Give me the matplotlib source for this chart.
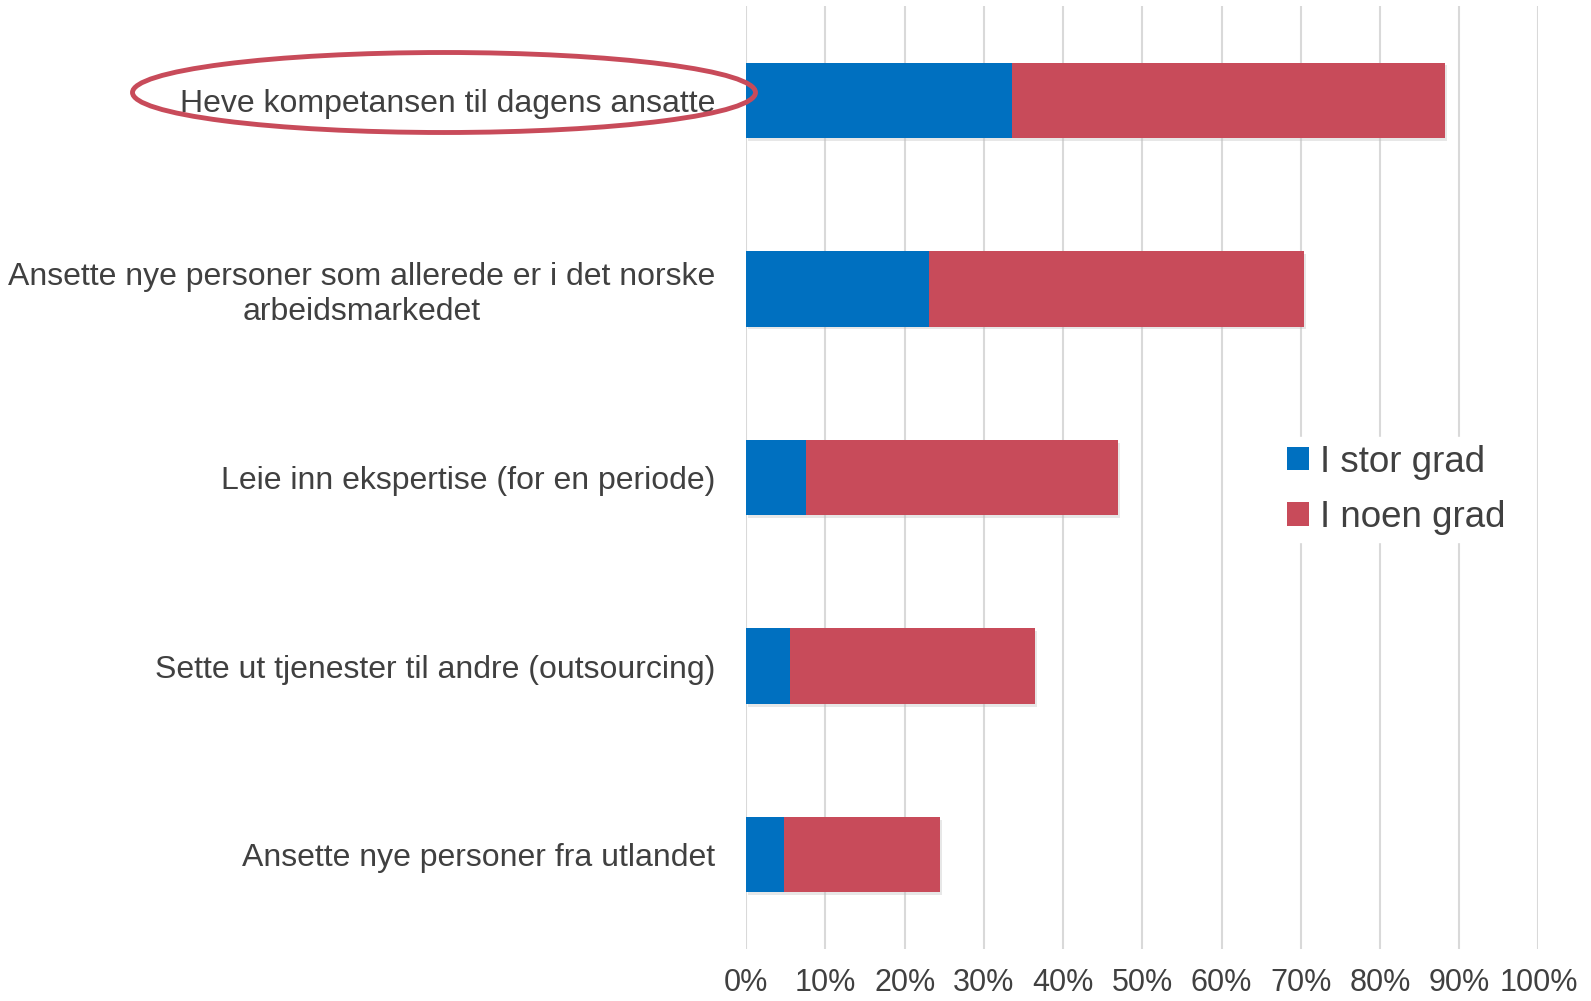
import matplotlib.pyplot as plt
from matplotlib.patches import Ellipse
import matplotlib.patheffects as pe

plt.rcParams['font.family'] = ['Liberation Sans', 'DejaVu Sans']

categories = [
    'Heve kompetansen til dagens ansatte',
    'Ansette nye personer som allerede er i det norske\narbeidsmarkedet',
    'Leie inn ekspertise (for en periode)',
    'Sette ut tjenester til andre (outsourcing)',
    'Ansette nye personer fra utlandet',
]
stor_grad = [33.5, 23.1, 7.6, 5.5, 4.8]
noen_grad = [54.7, 47.3, 39.3, 31.0, 19.6]
series_names = ['I stor grad', 'I noen grad']
colors = ['#0070C0', '#C84B5A']

fig = plt.figure(figsize=(15.91, 10.01), dpi=100)
ax = fig.add_axes([0.469, 0.052, 0.498, 0.942])

y = list(range(len(categories)))
shadow = [pe.SimplePatchShadow(offset=(1.5, -2), shadow_rgbFace='#bbbbbb', alpha=0.35), pe.Normal()]
b1 = ax.barh(y, stor_grad, height=0.4, color=colors[0], label=series_names[0], zorder=3)
b2 = ax.barh(y, noen_grad, left=stor_grad, height=0.4, color=colors[1], label=series_names[1], zorder=3)
for bars in (b1, b2):
    for p in bars:
        p.set_path_effects(shadow)

ax.set_ylim(len(categories) - 0.5, -0.5)
ax.set_xlim(0, 100)
ax.set_xticks(range(0, 101, 10))
ax.set_xticklabels([f'{v}%' for v in range(0, 101, 10)], fontsize=22, color='#404040')
ax.set_yticks(y)
ax.set_yticklabels(categories, fontsize=23, color='#404040', multialignment='center')
ax.tick_params(length=0)
ax.tick_params(axis='y', pad=22)
ax.tick_params(axis='x', pad=14)
ax.grid(axis='x', color='#D9D9D9', linewidth=1.5, zorder=0)
ax.set_axisbelow(True)
for s in ax.spines.values():
    s.set_visible(False)

leg = ax.legend(loc='center left', bbox_to_anchor=(0.65, 0.487), fontsize=26.5,
                frameon=True, framealpha=1, edgecolor='white', fancybox=False,
                handlelength=0.6, handleheight=0.6, handletextpad=0.3, labelspacing=0.55,
                borderpad=0.2, labelcolor='#404040')
for h in leg.legend_handles:
    h.set_path_effects([])

# red ellipse around the first label
fig.patches.append(Ellipse((444 / 1591, 1 - 92.5 / 1001), 623 / 1591, 80 / 1001,
                           transform=fig.transFigure, fill=False,
                           edgecolor='#C84B5A', linewidth=3.5))

fig.savefig('out.png', dpi=100)
